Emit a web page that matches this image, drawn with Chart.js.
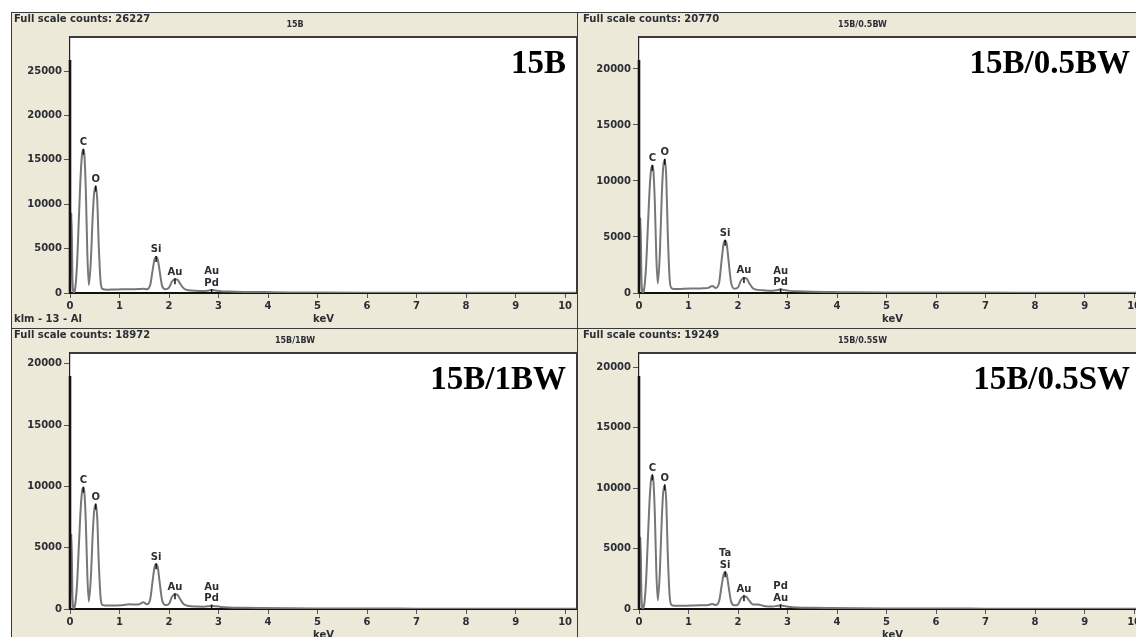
<!DOCTYPE html>
<html>
<head>
    <title>EDS Spectra</title>
    <script src="https://cdn.jsdelivr.net/npm/chart.js"></script>
    <style>
        body { margin: 0; background: #fff; overflow: hidden; width: 1136px; height: 637px; position: relative; }
        .panel { position: absolute; background: #ece9d8; outline: 1px solid #3a3a3a; }
        .panel canvas { position: absolute; left: 0; top: 0; }
    </style>
</head>
<body>
    <div class="panel" id="p0"><canvas id="c0"></canvas></div>
    <div class="panel" id="p1"><canvas id="c1"></canvas></div>
    <div class="panel" id="p2"><canvas id="c2"></canvas></div>
    <div class="panel" id="p3"><canvas id="c3"></canvas></div>

    <script>
        // energy grid (keV) shared by all four spectra
        const energy = [0, 0.03, 0.05, 0.075, 0.10, 0.14, 0.18, 0.22, 0.25, 0.27, 0.29, 0.32, 0.35, 0.38, 0.42, 0.46, 0.49, 0.52, 0.55, 0.58,
            0.62, 0.66, 0.75, 0.9, 1.05, 1.2, 1.3, 1.4, 1.48, 1.55, 1.62, 1.67, 1.71, 1.74, 1.77, 1.81, 1.86, 1.93, 2.0, 2.06,
            2.12, 2.17, 2.23, 2.3, 2.4, 2.55, 2.7, 2.8, 2.86, 2.93, 3.05, 3.2, 3.5, 3.9, 4.4, 5.0, 6.0, 7.0, 8.0, 9.0, 10.0, 10.24];

        const counts15B = [300, 9000, 1500, 80, 300, 3000, 8500, 13800, 15900, 16140, 15600, 11500, 4500, 900, 3500, 8800, 11400, 11990, 10500, 5500,
            1200, 450, 380, 400, 420, 430, 420, 440, 470, 420, 900, 2600, 3850, 4070, 3850, 2500, 800, 420, 600, 1300,
            1560, 1500, 1000, 500, 300, 250, 220, 280, 330, 280, 200, 160, 120, 100, 70, 50, 40, 40, 30, 25, 20, 20];

        const counts05BW = [300, 6700, 1200, 60, 250, 2150, 6000, 9700, 11180, 11350, 10960, 8060, 3200, 850, 3450, 8680, 11300, 11890, 10400, 5470,
            1200, 420, 350, 380, 400, 410, 420, 460, 630, 450, 950, 2980, 4430, 4660, 4430, 2840, 930, 380, 500, 1120,
            1350, 1300, 860, 420, 280, 230, 210, 270, 320, 260, 190, 150, 110, 90, 60, 45, 35, 35, 25, 20, 15, 15];

        const counts1BW = [300, 6100, 1000, 60, 250, 1880, 5240, 8460, 9740, 9890, 9550, 7020, 2770, 620, 2470, 6210, 8080, 8510, 7450, 3910,
            850, 320, 280, 290, 300, 380, 360, 380, 550, 380, 800, 2330, 3460, 3640, 3460, 2220, 730, 320, 420, 1000,
            1210, 1160, 770, 380, 250, 200, 190, 230, 270, 230, 170, 130, 100, 80, 60, 45, 35, 30, 25, 20, 15, 15];

        const counts05SW = [300, 5940, 1000, 60, 250, 2100, 5860, 9450, 10880, 11050, 10670, 7850, 3090, 720, 2960, 7460, 9710, 10220, 8940, 4700,
            1020, 330, 260, 270, 280, 300, 310, 330, 410, 330, 700, 1940, 2880, 3030, 2880, 1850, 610, 300, 380, 870,
            1045, 1000, 670, 380, 380, 220, 200, 260, 300, 250, 170, 130, 100, 80, 60, 45, 35, 30, 25, 20, 15, 15];

        const sampleNames = ['15B', '15B/0.5BW', '15B/1BW', '15B/0.5SW'];
        const fullScaleCounts = [26227, 20770, 18972, 19249];
        const yMax = [28850, 22850, 20870, 21170];
        const xMax = 10.24;
        const xTicks = [0, 1, 2, 3, 4, 5, 6, 7, 8, 9, 10];
        const yTickStep = 5000;

        // element lines marked on each spectrum (energy in keV, label lines bottom-up)
        const peaks15B = [[0.27, ['C']], [0.52, ['O']], [1.74, ['Si']], [2.12, ['Au']], [2.86, ['Pd', 'Au']]];
        const peaks05BW = [[0.27, ['C']], [0.52, ['O']], [1.74, ['Si']], [2.12, ['Au']], [2.86, ['Pd', 'Au']]];
        const peaks1BW = [[0.27, ['C']], [0.52, ['O']], [1.74, ['Si']], [2.12, ['Au']], [2.86, ['Pd', 'Au']]];
        const peaks05SW = [[0.27, ['C']], [0.52, ['O']], [1.74, ['Si', 'Ta']], [2.12, ['Au']], [2.86, ['Au', 'Pd']]];

        const seriesList = [counts15B, counts05BW, counts1BW, counts05SW];
        const peakList = [peaks15B, peaks05BW, peaks1BW, peaks05SW];

        const panels = [
            { left: 12, top: 13, width: 566, axisW: 58, nameRight: 554, footer: 'klm - 13 - Al' },
            { left: 578, top: 13, width: 569, axisW: 61, nameRight: 552, footer: '' },
            { left: 12, top: 329, width: 566, axisW: 58, nameRight: 554, footer: '' },
            { left: 578, top: 329, width: 569, axisW: 61, nameRight: 552, footer: '' }
        ];
        const panelHeight = 315;

        const FONT = "'DejaVu Sans', Verdana, sans-serif";
        const TEXT = '#2d2d35';

        function makeDecor(i) {
            return {
                id: 'spectrumDecor',
                beforeDraw(chart) {
                    const { ctx, chartArea: a } = chart;
                    ctx.save();
                    ctx.fillStyle = '#ffffff';
                    ctx.fillRect(a.left, a.top, a.right - a.left, a.bottom - a.top);
                    ctx.restore();
                },
                afterDraw(chart) {
                    const { ctx, chartArea: a, scales: { x, y } } = chart;
                    const data = seriesList[i];
                    ctx.save();

                    // plot frame, top and right
                    ctx.strokeStyle = '#3c3c3c';
                    ctx.lineWidth = 2;
                    ctx.beginPath();
                    ctx.moveTo(a.left, a.top);
                    ctx.lineTo(a.right, a.top);
                    ctx.lineTo(a.right, a.bottom);
                    ctx.stroke();

                    // heavier lower part of the count axis
                    ctx.strokeStyle = '#111';
                    ctx.lineWidth = 2.6;
                    ctx.beginPath();
                    ctx.moveTo(a.left, a.top + 23);
                    ctx.lineTo(a.left, a.bottom);
                    ctx.stroke();

                    // peak markers and element labels
                    ctx.font = 'bold 10px ' + FONT;
                    ctx.textAlign = 'center';
                    ctx.textBaseline = 'middle';
                    peakList[i].forEach(([e, lines]) => {
                        const v = data[energy.indexOf(e)];
                        const px = x.getPixelForValue(e);
                        const py = y.getPixelForValue(v);
                        ctx.strokeStyle = '#111';
                        ctx.lineWidth = 1.5;
                        ctx.beginPath();
                        ctx.moveTo(px, py - 1);
                        ctx.lineTo(px, Math.min(py + 5, a.bottom));
                        ctx.stroke();
                        ctx.fillStyle = TEXT;
                        lines.forEach((t, k) => ctx.fillText(t, px, py - 7 - k * 11.5));
                    });

                    // header
                    ctx.textAlign = 'left';
                    ctx.font = 'bold 10px ' + FONT;
                    ctx.fillText('Full scale counts: ' + fullScaleCounts[i], a.left - 56, 6);
                    ctx.textAlign = 'center';
                    ctx.font = 'bold 8px ' + FONT;
                    ctx.fillText(sampleNames[i], chart.width / 2, 12);

                    if (panels[i].footer) {
                        ctx.textAlign = 'left';
                        ctx.font = 'bold 10px ' + FONT;
                        ctx.fillText(panels[i].footer, a.left - 56, 306);
                    }

                    // sample name inside the plot
                    ctx.textAlign = 'right';
                    ctx.textBaseline = 'alphabetic';
                    ctx.fillStyle = '#000';
                    ctx.font = "bold 33px 'Liberation Serif', 'Times New Roman', serif";
                    ctx.fillText(sampleNames[i], panels[i].nameRight, a.top + 36);
                    ctx.restore();
                }
            };
        }

        function createPanel(i) {
            const p = panels[i];
            const div = document.getElementById('p' + i);
            div.style.left = p.left + 'px';
            div.style.top = p.top + 'px';
            div.style.width = p.width + 'px';
            div.style.height = panelHeight + 'px';
            const canvas = document.getElementById('c' + i);
            canvas.width = p.width;
            canvas.height = panelHeight;

            const points = energy.map((e, k) => ({ x: e, y: seriesList[i][k] }));

            new Chart(canvas.getContext('2d'), {
                type: 'line',
                data: {
                    datasets: [{
                        data: points,
                        borderColor: '#777777',
                        borderWidth: 2,
                        pointRadius: 0,
                        fill: false,
                        cubicInterpolationMode: 'monotone'
                    }]
                },
                options: {
                    responsive: false,
                    animation: false,
                    layout: { padding: { top: 24, right: 1, left: 0, bottom: 0 } },
                    plugins: { legend: { display: false }, tooltip: { enabled: false } },
                    scales: {
                        x: {
                            type: 'linear',
                            min: 0,
                            max: xMax,
                            afterFit: s => { s.height = 35; },
                            afterBuildTicks: s => { s.ticks = xTicks.map(v => ({ value: v })); },
                            border: { color: '#111', width: 2 },
                            grid: { drawOnChartArea: false, drawTicks: true, tickLength: 5, color: '#555' },
                            ticks: {
                                color: TEXT, padding: 2, maxRotation: 0, autoSkip: false,
                                font: { family: FONT, size: 10, weight: 'bold' },
                                callback: v => String(v)
                            },
                            title: {
                                display: true, text: 'keV', color: TEXT,
                                font: { family: FONT, size: 10, weight: 'bold' },
                                padding: { top: 0, bottom: 3 }
                            }
                        },
                        y: {
                            min: 0,
                            max: yMax[i],
                            afterFit: s => { s.width = p.axisW; },
                            afterBuildTicks: s => {
                                const t = [];
                                for (let v = 0; v <= yMax[i]; v += yTickStep) t.push({ value: v });
                                s.ticks = t;
                            },
                            border: { color: '#222', width: 1.2 },
                            grid: { drawOnChartArea: false, drawTicks: true, tickLength: 6, color: '#555' },
                            ticks: {
                                color: TEXT, padding: 2,
                                font: { family: FONT, size: 10, weight: 'bold' },
                                callback: v => String(v)
                            }
                        }
                    }
                },
                plugins: [makeDecor(i)]
            });
        }

        for (let i = 0; i < 4; i++) createPanel(i);
    </script>
</body>
</html>
